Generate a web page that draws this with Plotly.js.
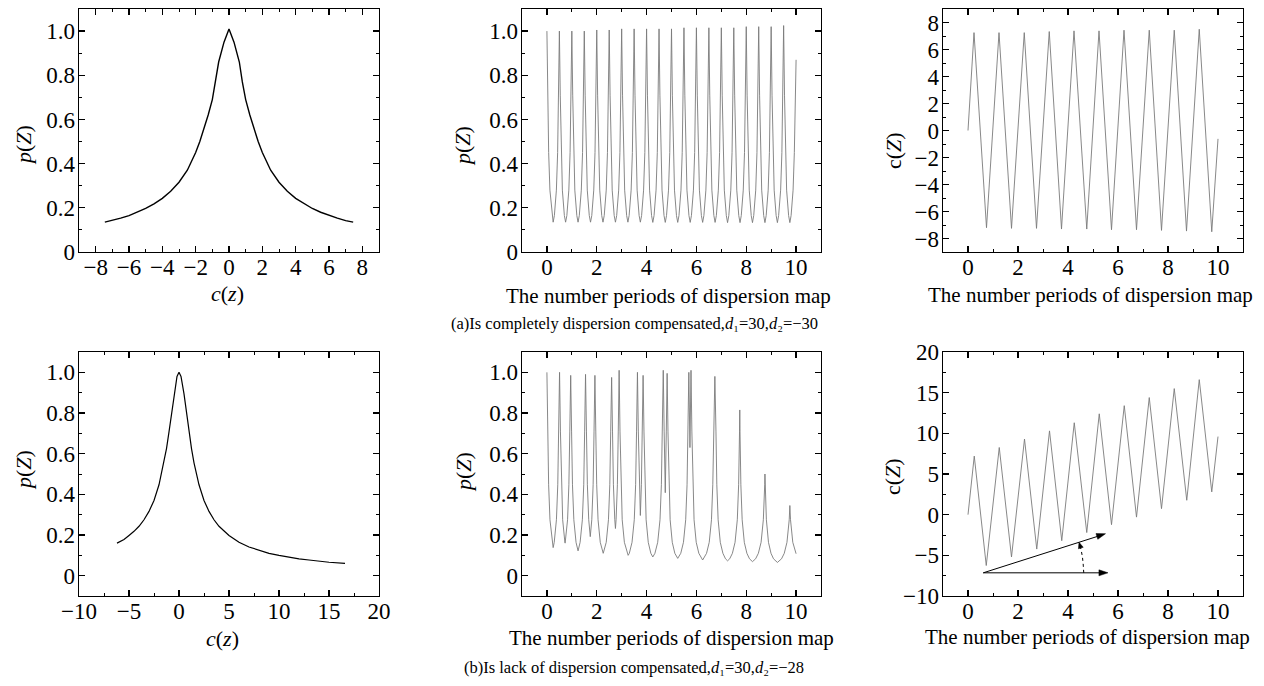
<!DOCTYPE html>
<html><head><meta charset="utf-8">
<script src="https://cdn.plot.ly/plotly-3.0.1.min.js"></script>
<style>html,body{margin:0;padding:0;background:#fff}#chart{width:1264px;height:686px}</style>
</head><body><div id="chart"></div>
<script>
// ---- Panel (a) left: p vs c, complete compensation
const cA = [-7.45,-7,-6.5,-6,-5.5,-5,-4.5,-4,-3.5,-3,-2.5,-2,-1.75,-1.5,-1.25,-1,-0.8,-0.62,-0.3,0,0.3,0.62,0.8,1,1.25,1.5,1.75,2,2.5,3,3.5,4,4.5,5,5.5,6,6.5,7,7.45];
const pA = [0.135,0.142,0.153,0.165,0.18,0.197,0.218,0.243,0.275,0.316,0.37,0.45,0.5,0.555,0.62,0.69,0.77,0.86,0.95,1.01,0.95,0.86,0.77,0.69,0.62,0.555,0.5,0.45,0.37,0.316,0.275,0.243,0.218,0.197,0.18,0.165,0.153,0.142,0.135];

// ---- Panel (a) middle: p vs number of periods
const nA = [
0,0.035,0.07,0.12,0.2,0.25,0.3,0.38,0.43,0.465,
0.5,0.535,0.57,0.62,0.7,0.75,0.8,0.88,0.93,0.965,
1,1.035,1.07,1.12,1.2,1.25,1.3,1.38,1.43,1.465,
1.5,1.535,1.57,1.62,1.7,1.75,1.8,1.88,1.93,1.965,
2,2.035,2.07,2.12,2.2,2.25,2.3,2.38,2.43,2.465,
2.5,2.535,2.57,2.62,2.7,2.75,2.8,2.88,2.93,2.965,
3,3.035,3.07,3.12,3.2,3.25,3.3,3.38,3.43,3.465,
3.5,3.535,3.57,3.62,3.7,3.75,3.8,3.88,3.93,3.965,
4,4.035,4.07,4.12,4.2,4.25,4.3,4.38,4.43,4.465,
4.5,4.535,4.57,4.62,4.7,4.75,4.8,4.88,4.93,4.965,
5,5.035,5.07,5.12,5.2,5.25,5.3,5.38,5.43,5.465,
5.5,5.535,5.57,5.62,5.7,5.75,5.8,5.88,5.93,5.965,
6,6.035,6.07,6.12,6.2,6.25,6.3,6.38,6.43,6.465,
6.5,6.535,6.57,6.62,6.7,6.75,6.8,6.88,6.93,6.965,
7,7.035,7.07,7.12,7.2,7.25,7.3,7.38,7.43,7.465,
7.5,7.535,7.57,7.62,7.7,7.75,7.8,7.88,7.93,7.965,
8,8.035,8.07,8.12,8.2,8.25,8.3,8.38,8.43,8.465,
8.5,8.535,8.57,8.62,8.7,8.75,8.8,8.88,8.93,8.965,
9,9.035,9.07,9.12,9.2,9.25,9.3,9.38,9.43,9.465,
9.5,9.535,9.57,9.62,9.7,9.75,9.8,9.88,9.93,9.965,
10];
const pNA = [
1.0,0.71,0.45,0.28,0.165,0.135,0.165,0.28,0.45,0.71,
1.0,0.71,0.45,0.28,0.165,0.135,0.165,0.28,0.45,0.71,
1.0,0.71,0.45,0.28,0.165,0.135,0.165,0.28,0.45,0.71,
1.0,0.71,0.45,0.28,0.165,0.135,0.165,0.28,0.45,0.71,
1.005,0.71,0.45,0.28,0.165,0.135,0.165,0.28,0.45,0.71,
1.005,0.71,0.45,0.28,0.165,0.135,0.165,0.28,0.45,0.71,
1.01,0.71,0.45,0.28,0.165,0.135,0.165,0.28,0.45,0.71,
1.01,0.71,0.45,0.28,0.165,0.135,0.165,0.28,0.45,0.71,
1.01,0.71,0.45,0.28,0.165,0.134,0.165,0.28,0.45,0.71,
1.01,0.71,0.45,0.28,0.165,0.134,0.165,0.28,0.45,0.71,
1.01,0.71,0.45,0.28,0.165,0.134,0.165,0.28,0.45,0.71,
1.015,0.71,0.45,0.28,0.165,0.134,0.165,0.28,0.45,0.71,
1.015,0.71,0.45,0.28,0.165,0.134,0.165,0.28,0.45,0.71,
1.015,0.71,0.45,0.28,0.165,0.134,0.165,0.28,0.45,0.71,
1.015,0.71,0.45,0.28,0.165,0.133,0.165,0.28,0.45,0.71,
1.015,0.71,0.45,0.28,0.165,0.133,0.165,0.28,0.45,0.71,
1.02,0.71,0.45,0.28,0.165,0.133,0.165,0.28,0.45,0.71,
1.02,0.71,0.45,0.28,0.165,0.133,0.165,0.28,0.45,0.71,
1.02,0.71,0.45,0.28,0.165,0.133,0.165,0.28,0.45,0.71,
1.025,0.71,0.45,0.28,0.165,0.133,0.165,0.28,0.45,0.71,
0.87];

// ---- Panel (a) right: c vs number of periods
const nCA = [0,0.24,0.74,1.24,1.74,2.25,2.74,3.25,3.74,4.24,4.75,5.24,5.74,6.24,6.74,7.25,7.74,8.25,8.74,9.25,9.75,10];
const cNA = [0,7.25,-7.2,7.25,-7.25,7.25,-7.25,7.33,-7.3,7.38,-7.3,7.38,-7.35,7.43,-7.35,7.43,-7.4,7.43,-7.45,7.5,-7.5,-0.62];

// ---- Panel (b) left: p vs c, lack of compensation
const cB = [-6.2,-5.5,-5,-4.5,-4,-3.5,-3,-2.5,-2,-1.5,-1.25,-1,-0.75,-0.5,-0.2,0,0.2,0.5,0.75,1,1.25,1.5,2,2.5,3,3.5,4,5,6,7,8,9,10,11,12,13,14,15,16.6];
const pB = [0.16,0.178,0.198,0.218,0.243,0.275,0.316,0.37,0.447,0.555,0.625,0.707,0.8,0.894,0.98,1.0,0.98,0.894,0.8,0.707,0.625,0.555,0.447,0.37,0.316,0.275,0.243,0.198,0.164,0.141,0.124,0.11,0.1,0.09,0.083,0.077,0.071,0.066,0.06];

// ---- Panel (b) middle: p vs number of periods
const nB = [0,0.035,0.069,0.122,0.208,0.25,0.293,0.382,0.436,0.471,0.507,0.543,0.579,0.632,0.721,0.73,0.829,0.882,0.918,0.954,0.99,1.026,1.08,1.169,1.25,1.332,1.423,1.478,1.514,1.55,1.587,1.623,1.678,1.74,1.801,1.855,1.891,1.926,1.962,1.998,2.052,2.141,2.26,2.38,2.47,2.524,2.56,2.597,2.633,2.669,2.724,2.75,2.776,2.828,2.863,2.898,2.933,2.968,3.021,3.109,3.214,3.26,3.307,3.416,3.506,3.561,3.597,3.633,3.669,3.706,3.75,3.791,3.826,3.86,3.895,3.929,3.981,4.067,4.171,4.25,4.335,4.446,4.539,4.594,4.631,4.669,4.706,4.75,4.791,4.825,4.859,4.894,4.945,5.031,5.134,5.25,5.372,5.48,5.57,5.624,5.66,5.696,5.74,5.783,5.818,5.853,5.905,5.992,6.097,6.25,6.407,6.514,6.604,6.657,6.693,6.74,6.785,6.819,6.872,6.958,7.063,7.167,7.25,7.336,7.444,7.551,7.641,7.694,7.73,7.74,7.749,7.784,7.836,7.922,8.026,8.13,8.25,8.377,8.486,8.595,8.686,8.741,8.75,8.808,8.892,8.993,9.094,9.25,9.417,9.525,9.634,9.725,9.75,9.776,9.868,10];
const pNB = [1.0,0.707,0.447,0.275,0.164,0.138,0.164,0.275,0.447,0.707,1.0,0.707,0.447,0.275,0.164,0.16,0.275,0.447,0.707,0.985,0.707,0.447,0.275,0.164,0.122,0.164,0.275,0.447,0.707,0.99,0.707,0.447,0.275,0.192,0.275,0.447,0.707,0.985,0.707,0.447,0.275,0.164,0.11,0.164,0.275,0.447,0.707,0.975,0.707,0.447,0.275,0.232,0.275,0.447,0.707,1.01,0.707,0.447,0.275,0.164,0.11,0.1,0.11,0.164,0.275,0.447,0.707,1.0,0.707,0.447,0.296,0.447,0.707,0.985,0.707,0.447,0.275,0.164,0.11,0.092,0.11,0.164,0.275,0.447,0.707,1.01,0.707,0.408,0.707,0.995,0.707,0.447,0.275,0.164,0.11,0.085,0.11,0.164,0.275,0.447,0.707,1.0,0.63,1.01,0.707,0.447,0.275,0.164,0.11,0.077,0.11,0.164,0.275,0.447,0.707,0.98,0.707,0.447,0.275,0.164,0.11,0.083,0.073,0.083,0.11,0.164,0.275,0.447,0.707,0.815,0.707,0.447,0.275,0.164,0.11,0.083,0.069,0.083,0.11,0.164,0.275,0.447,0.5,0.275,0.164,0.11,0.083,0.065,0.083,0.11,0.164,0.275,0.345,0.275,0.164,0.108];

// ---- Panel (b) right: c vs number of periods
const nCB = [0,0.25,0.73,1.25,1.74,2.26,2.75,3.26,3.75,4.25,4.75,5.25,5.74,6.25,6.74,7.25,7.74,8.25,8.75,9.25,9.75,10];
const cNB = [0,7.2,-6.25,8.26,-5.2,9.3,-4.23,10.3,-3.2,11.3,-2.2,12.4,-1.23,13.4,-0.3,14.4,0.74,15.5,1.77,16.6,2.8,9.6];

const captionA = '(a)Is completely dispersion compensated,<i>d</i>\u2081=30,<i>d</i>\u2082=\u221230';
const captionB = '(b)Is lack of dispersion compensated,<i>d</i>\u2081=30,<i>d</i>\u2082=\u221228';
const xTitleMap = 'The number periods of dispersion map';

const FONT = 'Liberation Serif';
const black = '#000';
const grey = '#7a7a7a';

function axis(extra) {
  return Object.assign({
    showline: true, linecolor: black, linewidth: 1.3, mirror: 'ticks',
    ticks: 'inside', ticklen: 6, tickwidth: 1.2, tickcolor: black,
    showgrid: false, zeroline: false, fixedrange: true,
    tickfont: {family: FONT, size: 23, color: black},
  }, extra);
}
function xax(extra) { return axis(Object.assign({ticklabelstandoff: -6}, extra)); }
function yax(extra) { return axis(Object.assign({ticklabelstandoff: -2}, extra)); }
function minor(d) { return {ticks: 'inside', ticklen: 3, tickwidth: 1, tickcolor: black, dtick: d, showgrid: false}; }

const colX = [[79/1264, 379/1264], [522/1264, 821/1264], [943/1264, 1243/1264]];
const rowY = [[1 - 252/686, 1 - 9/686], [1 - 596/686, 1 - 352/686]];

const traces = [
  {x: cA, y: pA, xaxis: 'x', yaxis: 'y', mode: 'lines', line: {color: black, width: 1.4}},
  {x: nA, y: pNA, xaxis: 'x2', yaxis: 'y2', mode: 'lines', line: {color: grey, width: 0.9}},
  {x: nCA, y: cNA, xaxis: 'x3', yaxis: 'y3', mode: 'lines', line: {color: grey, width: 0.9}},
  {x: cB, y: pB, xaxis: 'x4', yaxis: 'y4', mode: 'lines', line: {color: black, width: 1.2}},
  {x: nB, y: pNB, xaxis: 'x5', yaxis: 'y5', mode: 'lines', line: {color: grey, width: 0.9}},
  {x: nCB, y: cNB, xaxis: 'x6', yaxis: 'y6', mode: 'lines', line: {color: grey, width: 0.9}},
];

const pTicks = {tickmode: 'linear', tick0: 0, dtick: 0.2, tickformat: '.1f', labelalias: {'0.0': '0'}};

const layout = {
  width: 1264, height: 686, margin: {l: 0, r: 0, t: 0, b: 0},
  paper_bgcolor: '#fff', plot_bgcolor: '#fff', showlegend: false, hovermode: false,
  font: {family: FONT, color: black},
  xaxis: xax({domain: colX[0], anchor: 'y', range: [-9, 9], tickmode: 'linear', tick0: 0, dtick: 2, minor: minor(1)}),
  yaxis: yax(Object.assign({domain: rowY[0], anchor: 'x', range: [0, 1.1], minor: minor(0.1)}, pTicks)),
  xaxis2: xax({domain: colX[1], anchor: 'y2', range: [-1, 11], tickmode: 'linear', tick0: 0, dtick: 2, minor: minor(1)}),
  yaxis2: yax(Object.assign({domain: rowY[0], anchor: 'x2', range: [0, 1.1], minor: minor(0.1)}, pTicks)),
  xaxis3: xax({domain: colX[2], anchor: 'y3', range: [-1, 11], tickmode: 'linear', tick0: 0, dtick: 2, minor: minor(1)}),
  yaxis3: yax({domain: rowY[0], anchor: 'x3', range: [-9, 9], tickmode: 'linear', tick0: 0, dtick: 2, minor: minor(1)}),
  xaxis4: xax({domain: colX[0], anchor: 'y4', range: [-10, 20], tickmode: 'linear', tick0: 0, dtick: 5, minor: minor(2.5)}),
  yaxis4: yax(Object.assign({domain: rowY[1], anchor: 'x4', range: [-0.1, 1.1], minor: minor(0.1)}, pTicks)),
  xaxis5: xax({domain: colX[1], anchor: 'y5', range: [-1, 11], tickmode: 'linear', tick0: 0, dtick: 2, minor: minor(1)}),
  yaxis5: yax(Object.assign({domain: rowY[1], anchor: 'x5', range: [-0.1, 1.1], minor: minor(0.1)}, pTicks)),
  xaxis6: xax({domain: colX[2], anchor: 'y6', range: [-1, 11], tickmode: 'linear', tick0: 0, dtick: 2, minor: minor(1)}),
  yaxis6: yax({domain: rowY[1], anchor: 'x6', range: [-10, 20], tickmode: 'linear', tick0: 0, dtick: 5, minor: minor(2.5)}),
  shapes: [
    // dotted angle arc
    {type: 'path', xref: 'x6', yref: 'y6',
     path: 'M4.63,-7.15 L4.61,-6.2 L4.58,-5.25 L4.53,-4.4 L4.5,-4.05',
     line: {color: black, width: 1, dash: 'dot'}},
    // slanted arrow
    {type: 'line', xref: 'x6', yref: 'y6', x0: 0.61, y0: -7.15, x1: 5.2, y1: -2.65, line: {color: black, width: 1}},
    {type: 'path', xref: 'x6', yref: 'y6', path: 'M5.5,-2.34 L5.192,-3.029 L5.119,-2.325 Z',
     fillcolor: black, line: {color: black, width: 0.5}},
    // horizontal arrow
    {type: 'line', xref: 'x6', yref: 'y6', x0: 0.61, y0: -7.15, x1: 5.3, y1: -7.15, line: {color: black, width: 1}},
    {type: 'path', xref: 'x6', yref: 'y6', path: 'M5.6,-7.15 L5.238,-6.781 L5.238,-7.519 Z',
     fillcolor: black, line: {color: black, width: 0.5}},
    // arc arrowhead
    {type: 'path', xref: 'x6', yref: 'y6', path: 'M4.44,-3.4 L4.609,-4.01 L4.418,-4.197 Z',
     fillcolor: black, line: {color: black, width: 0.5}}
  ],
  annotations: []
};

function txt(x, y, text, size, angle) {
  return {xref: 'paper', yref: 'paper', x: x / 1264, y: 1 - y / 686, xanchor: 'center', yanchor: 'middle',
          text: text, showarrow: false, textangle: angle || 0, font: {family: FONT, size: size, color: black}};
}
layout.annotations.push(
  txt(23, 145, '<i>p</i>(<i>Z</i>)', 22, -90),
  txt(463, 146, '<i>p</i>(<i>Z</i>)', 22, -90),
  txt(893, 151, 'c(<i>Z</i>)', 22, -90),
  txt(23, 470, '<i>p</i>(<i>Z</i>)', 22, -90),
  txt(463, 472, '<i>p</i>(<i>Z</i>)', 22, -90),
  txt(892, 477, 'c(<i>Z</i>)', 22, -90),
  txt(227, 293, '<i>c</i>(<i>z</i>)', 22),
  txt(222, 638, '<i>c</i>(<i>z</i>)', 22),
  txt(668, 296, xTitleMap, 21),
  txt(1090, 295, xTitleMap, 21),
  txt(672, 638, xTitleMap, 21),
  txt(1087, 637, xTitleMap, 21),
  txt(634, 324, captionA, 16.5),
  txt(634, 667, captionB, 16.5)
);

Plotly.newPlot('chart', traces, layout, {staticPlot: true, displayModeBar: false});
</script></body></html>
